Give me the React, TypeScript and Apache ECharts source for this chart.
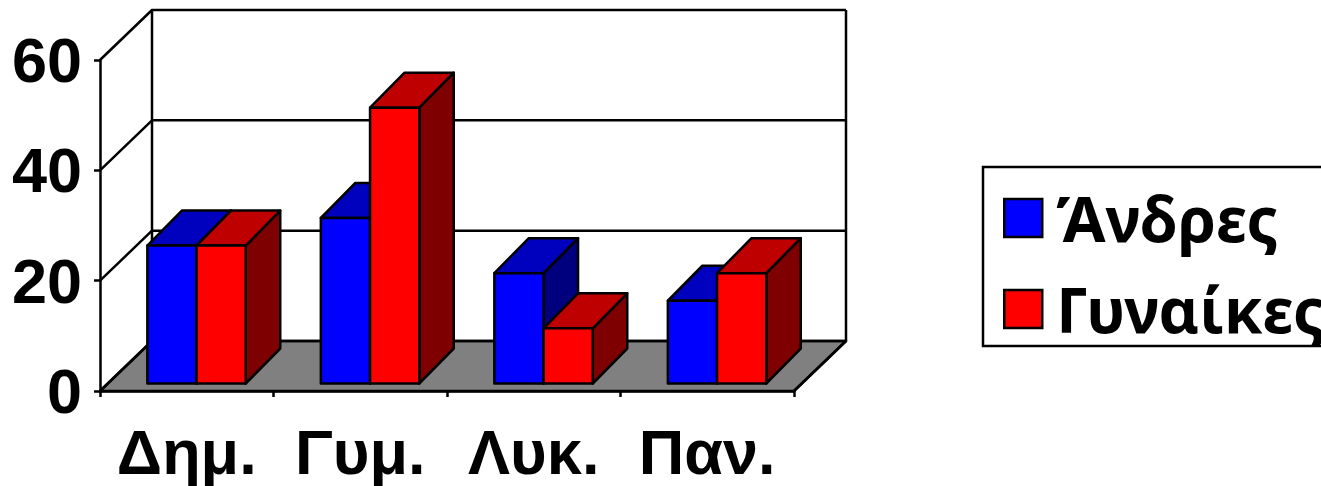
import React, { useEffect, useRef } from "react";
import * as echarts from "echarts";

const categories = ["Δημ.", "Γυμ.", "Λυκ.", "Παν."];
const menValues = [25, 30, 20, 15];
const womenValues = [25, 50, 10, 20];
const yTicks = [0, 20, 40, 60];

const WALL_DX = 52;
const WALL_DY = -50;
const BAR_DX = 34.5;
const BAR_DY = -35;
const BAR_W = 49.2;
const FRONT_DX = 9.8;
const FRONT_DY = -7.5;

const ink = { stroke: "#000", lineWidth: 2.5, lineJoin: "round" as const };

function poly(points: number[][], fill: string) {
  return { type: "polygon", silent: true, shape: { points }, style: { ...ink, fill } };
}

function barRenderer(slot: number, front: string, top: string, side: string) {
  return (_params: any, api: any) => {
    const cat = api.value(0);
    const val = api.value(1);
    const t = api.coord([cat, val]);
    const b = api.coord([cat, 0]);
    const x0 = t[0] + FRONT_DX + (slot - 1) * BAR_W;
    const x1 = x0 + BAR_W;
    const yT = t[1] + FRONT_DY;
    const yB = b[1] + FRONT_DY;
    return {
      type: "group",
      children: [
        poly([[x1, yT], [x1 + BAR_DX, yT + BAR_DY], [x1 + BAR_DX, yB + BAR_DY], [x1, yB]], side),
        poly([[x0, yT], [x0 + BAR_DX, yT + BAR_DY], [x1 + BAR_DX, yT + BAR_DY], [x1, yT]], top),
        poly([[x0, yT], [x1, yT], [x1, yB], [x0, yB]], front),
      ],
    };
  };
}

function wallRenderer(params: any, api: any) {
  const r = params.coordSys;
  const left = r.x;
  const right = r.x + r.width;
  const line = (p: number[][]) => ({
    type: "polyline",
    silent: true,
    shape: { points: p },
    style: { ...ink, fill: "none" },
  });
  const children: any[] = [];
  const y0 = api.coord([0, yTicks[0]])[1];
  children.push(
    poly([[left, y0], [left + WALL_DX, y0 + WALL_DY], [right + WALL_DX, y0 + WALL_DY], [right, y0]], "#808080")
  );
  yTicks.forEach((v) => {
    const y = api.coord([0, v])[1];
    children.push(line([[left, y], [left + WALL_DX, y + WALL_DY], [right + WALL_DX, y + WALL_DY]]));
  });
  const yTop = api.coord([0, yTicks[yTicks.length - 1]])[1];
  children.push(line([[left + WALL_DX, yTop + WALL_DY], [left + WALL_DX, y0 + WALL_DY]]));
  children.push(line([[right + WALL_DX, yTop + WALL_DY], [right + WALL_DX, y0 + WALL_DY], [right, y0]]));
  return { type: "group", children };
}

export default function App() {
  const ref = useRef<HTMLDivElement>(null);
  useEffect(() => {
    document.body.style.margin = "0";
    document.body.style.overflow = "hidden";
    const chart = echarts.init(ref.current!, null, { renderer: "svg" });
    chart.setOption({
      animation: false,
      backgroundColor: "#fff",
      grid: { left: 100, top: 60, width: 694, height: 331, containLabel: false },
      legend: {
        orient: "vertical",
        left: 983,
        top: 167,
        padding: [19, 120, 5, 20],
        itemWidth: 38,
        itemHeight: 38,
        itemGap: 27,
        selectedMode: false,
        icon: "rect",
        borderColor: "#000",
        borderWidth: 2.5,
        backgroundColor: "#fff",
        itemStyle: { borderColor: "#000", borderWidth: 2.5 },
        textStyle: {
          fontFamily: "Noto Sans",
          fontWeight: "bold",
          fontSize: 62,
          color: "#000",
          lineHeight: 60,
          padding: [0, 0, 4, 9],
        },
        data: ["Άνδρες", "Γυναίκες"],
      },
      xAxis: {
        type: "category",
        data: categories,
        z: 5,
        axisLine: { lineStyle: { color: "#000", width: 2.5 } },
        axisTick: { show: true, length: 6, alignWithLabel: false, lineStyle: { color: "#000", width: 2.5 } },
        axisLabel: {
          interval: 0,
          margin: 29,
          color: "#000",
          fontFamily: "Liberation Sans",
          fontWeight: "bold",
          fontSize: 63,
        },
        splitLine: { show: false },
      },
      yAxis: {
        type: "value",
        min: 0,
        max: 60,
        interval: 20,
        z: 5,
        axisLine: { show: true, lineStyle: { color: "#000", width: 2.5 } },
        axisTick: { show: true, length: 6, lineStyle: { color: "#000", width: 2.5 } },
        axisLabel: {
          margin: 18,
          color: "#000",
          fontFamily: "Liberation Sans",
          fontWeight: "bold",
          fontSize: 63,
        },
        splitLine: { show: false },
      },
      series: [
        {
          type: "custom",
          name: "walls",
          z: 1,
          clip: false,
          silent: true,
          data: [[0, 0]],
          renderItem: wallRenderer,
        },
        {
          type: "custom",
          name: "Άνδρες",
          z: 2,
          clip: false,
          itemStyle: { color: "#0000FF" },
          encode: { x: 0, y: 1 },
          data: menValues.map((v, i) => [i, v]),
          renderItem: barRenderer(0, "#0000FF", "#0000BF", "#00007F"),
        },
        {
          type: "custom",
          name: "Γυναίκες",
          z: 3,
          clip: false,
          itemStyle: { color: "#FF0000" },
          encode: { x: 0, y: 1 },
          data: womenValues.map((v, i) => [i, v]),
          renderItem: barRenderer(1, "#FF0000", "#BF0000", "#7F0000"),
        },
      ],
    });
    return () => chart.dispose();
  }, []);
  return <div ref={ref} style={{ position: "absolute", left: 0, top: 0, width: 1321, height: 486 }} />;
}
